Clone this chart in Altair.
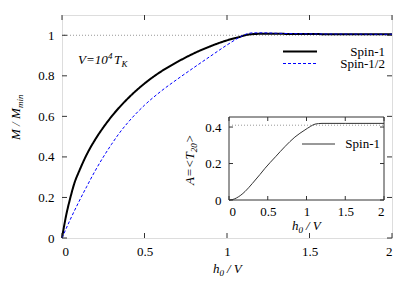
import altair as alt
import pandas as pd

# ---------------- data ----------------
series = ["Spin-1", "Spin-1/2"]

h_spin1 = [0, 0.025, 0.05, 0.079, 0.1, 0.15, 0.2, 0.25, 0.3, 0.4, 0.5, 0.6, 0.7, 0.8, 0.9,
           1.0, 1.08, 1.12, 1.16, 1.2, 1.3, 1.5, 1.75, 2.0]
m_spin1 = [0, 0.111, 0.197, 0.28, 0.322, 0.412, 0.484, 0.545, 0.599, 0.689, 0.762, 0.821, 0.869, 0.911, 0.946,
           0.975, 0.993, 1.002, 1.006, 1.007, 1.007, 1.006, 1.005, 1.005]

h_spin12 = [0, 0.05, 0.1, 0.15, 0.2, 0.25, 0.3, 0.35, 0.4, 0.5, 0.6, 0.7, 0.8, 0.9,
            1.0, 1.08, 1.12, 1.16, 1.22, 1.3, 1.5, 1.75, 2.0]
m_spin12 = [0, 0.091, 0.175, 0.254, 0.33, 0.399, 0.462, 0.52, 0.57, 0.655, 0.724, 0.784, 0.841, 0.897,
            0.952, 0.992, 1.007, 1.012, 1.012, 1.01, 1.007, 1.006, 1.005]

h_inset = [0, 0.05, 0.1, 0.206, 0.3, 0.4, 0.465, 0.6, 0.72, 0.85, 0.98, 1.05, 1.11, 1.2, 1.5, 2.0]
a_inset = [0, 0.003, 0.012, 0.046, 0.09, 0.14, 0.174, 0.237, 0.292, 0.345, 0.384, 0.403, 0.416, 0.42, 0.42, 0.42]

main_xticks = [0, 0.5, 1, 1.5, 2]
main_yticks = [0, 0.2, 0.4, 0.6, 0.8, 1]
inset_xticks = [0, 0.5, 1, 1.5, 2]
inset_yticks = [0, 0.2, 0.4]
main_ref = 1.0
inset_ref = 0.41

FONT = "Liberation Serif"
FS = 13
SUB = 9

W, H = 330, 223
IX0, IX1, IY0, IY1 = 167, 322, 185, 102   # inset pixel box inside the view

main_df = pd.DataFrame({
    "h": h_spin1 + h_spin12,
    "M": m_spin1 + m_spin12,
    "series": [series[0]] * len(h_spin1) + [series[1]] * len(h_spin12),
})
inset_df = pd.DataFrame({"h": h_inset, "A": a_inset})

color_s = alt.Scale(domain=series, range=["black", "blue"])
dash_s = alt.Scale(domain=series, range=[[1, 0], [3, 2]])
width_s = alt.Scale(domain=series, range=[2, 1])

mx = alt.Scale(domain=[0, 2], nice=False)
my = alt.Scale(domain=[0, 1.1], nice=False)
ix = alt.Scale(domain=[0, 2], range=[IX0, IX1], nice=False)
iy = alt.Scale(domain=[0, 0.455], range=[IY0, IY1], nice=False)

lab = dict(labelFont=FONT, labelFontSize=FS, labelColor="black", tickSize=0,
           domain=False, grid=False, title=None, format="~g")


def txt(s, x, y, size=FS, italic=True, angle=0, align="left", baseline="alphabetic"):
    return alt.Chart(pd.DataFrame({"t": [s]})).mark_text(
        font=FONT, fontSize=size, fontStyle="italic" if italic else "normal",
        align=align, baseline=baseline, angle=angle, color="black"
    ).encode(x=alt.value(x), y=alt.value(y), text="t:N")


# ---------------- main panel ----------------
lines = alt.Chart(main_df).mark_line(interpolate="monotone").encode(
    x=alt.X("h:Q", scale=mx, axis=alt.Axis(orient="bottom", values=main_xticks, labelPadding=7, **lab)),
    y=alt.Y("M:Q", scale=my, axis=alt.Axis(orient="left", values=main_yticks, labelPadding=8, **lab)),
    color=alt.Color("series:N", scale=color_s, legend=None),
    strokeDash=alt.StrokeDash("series:N", scale=dash_s, legend=None),
    strokeWidth=alt.StrokeWidth("series:N", scale=width_s, legend=None),
    order="h:Q",
)

ref_main = alt.Chart(pd.DataFrame({"y": [main_ref]})).mark_rule(
    color="#999999", strokeDash=[1, 2], strokeWidth=1
).encode(y=alt.Y("y:Q", scale=my))

mxt = pd.DataFrame({"v": main_xticks})
myt = pd.DataFrame({"v": main_yticks})
tk = dict(color="#333333", strokeWidth=1)
ticks_main = [
    alt.Chart(mxt).mark_rule(**tk).encode(x=alt.X("v:Q", scale=mx), y=alt.value(H), y2=alt.value(H - 5)),
    alt.Chart(mxt).mark_rule(**tk).encode(x=alt.X("v:Q", scale=mx), y=alt.value(0), y2=alt.value(5)),
    alt.Chart(myt).mark_rule(**tk).encode(y=alt.Y("v:Q", scale=my), x=alt.value(0), x2=alt.value(5)),
    alt.Chart(myt).mark_rule(**tk).encode(y=alt.Y("v:Q", scale=my), x=alt.value(W), x2=alt.value(W - 5)),
]

legend_main = []
for i, s in enumerate(series):
    d = pd.DataFrame({"series": [s]})
    yy = 36.5 + 12 * i
    legend_main.append(alt.Chart(d).mark_rule().encode(
        x=alt.value(221), x2=alt.value(255), y=alt.value(yy),
        color=alt.Color("series:N", scale=color_s, legend=None),
        strokeDash=alt.StrokeDash("series:N", scale=dash_s, legend=None),
        strokeWidth=alt.StrokeWidth("series:N", scale=width_s, legend=None)))
    legend_main.append(txt(s, 323, yy, italic=False, align="right", baseline="middle"))

titles_main = [
    txt("V=10", 16, 49),
    txt("4", 46, 44, size=SUB),
    txt("T", 52, 49),
    txt("K", 59.5, 52, size=SUB),
    txt("h", 151, 258),
    txt("0", 157.5, 261, size=SUB),
    txt("/ V", 165, 258),
    txt("M / M", -42, 125, angle=270),
    txt("min", -39, 93, size=SUB, angle=270),
]

main = alt.layer(ref_main, lines, *ticks_main, *legend_main, *titles_main)

# ---------------- inset ----------------
frame = alt.Chart(pd.DataFrame({"x": [0], "x2": [2], "y": [0], "y2": [0.455]})).mark_rect(
    fill="white", stroke="#333333", strokeWidth=1
).encode(
    x=alt.X("x:Q", scale=ix, axis=alt.Axis(orient="bottom", values=inset_xticks, labelPadding=5,
                                           offset=IY0 - H, **lab)),
    x2="x2:Q",
    y=alt.Y("y:Q", scale=iy, axis=alt.Axis(orient="left", values=inset_yticks, labelPadding=8,
                                           offset=-IX0, **lab)),
    y2="y2:Q",
)

ref_inset = alt.Chart(pd.DataFrame({"x": [0], "x2": [2], "y": [inset_ref]})).mark_rule(
    color="#999999", strokeDash=[1, 2], strokeWidth=1
).encode(x=alt.X("x:Q", scale=ix), x2="x2:Q", y=alt.Y("y:Q", scale=iy))

inset_line = alt.Chart(inset_df).mark_line(interpolate="monotone", color="#333333", strokeWidth=1).encode(
    x=alt.X("h:Q", scale=ix), y=alt.Y("A:Q", scale=iy), order="h:Q")

ixt = pd.DataFrame({"v": inset_xticks})
iyt = pd.DataFrame({"v": inset_yticks})
ticks_inset = [
    alt.Chart(ixt).mark_rule(**tk).encode(x=alt.X("v:Q", scale=ix), y=alt.value(IY0), y2=alt.value(IY0 - 4)),
    alt.Chart(ixt).mark_rule(**tk).encode(x=alt.X("v:Q", scale=ix), y=alt.value(IY1), y2=alt.value(IY1 + 4)),
    alt.Chart(iyt).mark_rule(**tk).encode(y=alt.Y("v:Q", scale=iy), x=alt.value(IX0), x2=alt.value(IX0 + 4)),
    alt.Chart(iyt).mark_rule(**tk).encode(y=alt.Y("v:Q", scale=iy), x=alt.value(IX1), x2=alt.value(IX1 - 4)),
]

legend_inset = [
    alt.Chart(pd.DataFrame({"s": [series[0]]})).mark_rule(color="#333333", strokeWidth=1).encode(
        x=alt.value(240), x2=alt.value(273), y=alt.value(129)),
    txt(series[0], 318, 129, italic=False, align="right", baseline="middle"),
]

titles_inset = [
    txt("h", 230, 215),
    txt("0", 236.5, 218, size=SUB),
    txt("/ V", 244, 215),
    txt("A=<T", 132, 170, angle=270),
    txt("20", 135, 137.3, size=SUB, angle=270),
    txt(">", 132, 128.3, angle=270),
]

inset = alt.layer(frame, ref_inset, inset_line, *ticks_inset, *legend_inset, *titles_inset)

chart = alt.layer(main, inset).resolve_scale(x="independent", y="independent").properties(
    width=W, height=H,
    autosize=alt.AutoSizeParams(type="none"),
    padding={"left": 54, "top": 7, "right": 15, "bottom": 45},
).configure_view(stroke="#333333", strokeWidth=1.2).configure(background="white")

chart.save("out.html", embed_options={"renderer": "svg", "actions": False})
